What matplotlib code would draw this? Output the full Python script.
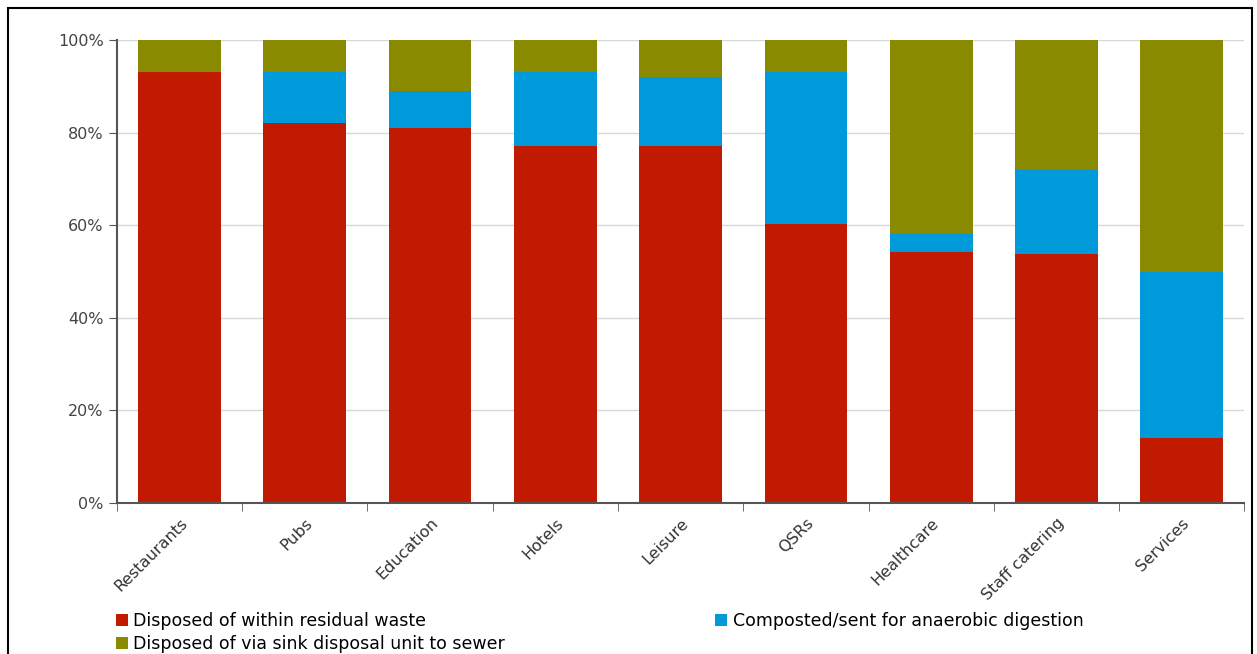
import numpy as np
import matplotlib.pyplot as plt
from matplotlib.patches import Rectangle
from matplotlib.ticker import FixedLocator

categories = ['Restaurants', 'Pubs', 'Education', 'Hotels', 'Leisure',
              'QSRs', 'Healthcare', 'Staff catering', 'Services']
residual = [93, 82, 81, 77, 77, 60.3, 54.2, 53.8, 14]
composted = [0, 11, 8, 16, 15, 32.7, 3.9, 18.1, 35.9]
sink = [100 - r - c for r, c in zip(residual, composted)]

red = '#C01A00'
blue = '#009ADB'
olive = '#8A8A00'
grey = '#555555'

fig = plt.figure(figsize=(12.57, 6.54), dpi=100)
fig.patches.append(Rectangle((0.006, -0.01), 0.99, 0.998, transform=fig.transFigure,
                             fill=False, edgecolor='black', linewidth=1.5))
ax = fig.add_axes([0.093, 0.231, 0.897, 0.708])

x = np.arange(len(categories))
w = 0.66
b1 = ax.bar(x, residual, w, color=red, zorder=2)
b2 = ax.bar(x, composted, w, bottom=residual, color=blue, zorder=2)
b3 = ax.bar(x, sink, w, bottom=np.add(residual, composted), color=olive, zorder=2)

ax.set_xlim(-0.5, len(categories) - 0.5)
ax.set_ylim(0, 100)
ax.set_yticks([0, 20, 40, 60, 80, 100])
ax.set_yticklabels(['0%', '20%', '40%', '60%', '80%', '100%'])
ax.yaxis.grid(True, color='#d8d8d8', linewidth=1, zorder=0)

ax.set_xticks(x)
ax.set_xticklabels(categories, rotation=45, ha='right', va='top',
                   rotation_mode='anchor', fontsize=11.5, color='#333333')
ax.xaxis.set_minor_locator(FixedLocator(np.arange(-0.5, len(categories), 1)))
ax.tick_params(axis='x', which='major', length=0, pad=9)
ax.tick_params(axis='x', which='minor', length=6, color=grey, direction='out')
ax.tick_params(axis='y', length=6, color=grey, labelsize=11.5, labelcolor='#444444')

for s in ['top', 'right']:
    ax.spines[s].set_visible(False)
for s in ['left', 'bottom']:
    ax.spines[s].set_color(grey)
    ax.spines[s].set_linewidth(1.5)

leg_kw = dict(frameon=False, fontsize=12.5, handlelength=0.7, handleheight=0.7,
              handletextpad=0.3, labelspacing=0.3, borderaxespad=0, borderpad=0)
fig.legend([b1, b3], ['Disposed of within residual waste',
                      'Disposed of via sink disposal unit to sewer'],
           loc='upper left', bbox_to_anchor=(0.092, 0.064), **leg_kw)
fig.legend([b2], ['Composted/sent for anaerobic digestion'],
           loc='upper left', bbox_to_anchor=(0.569, 0.064), **leg_kw)

fig.savefig('out.png', dpi=100)
